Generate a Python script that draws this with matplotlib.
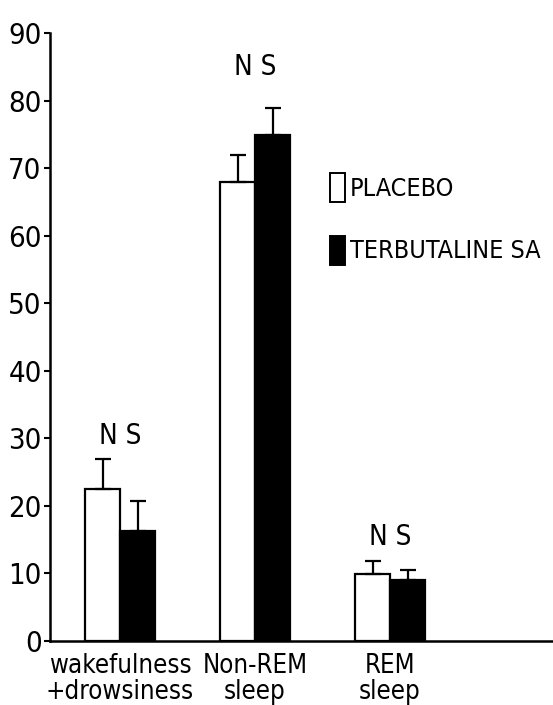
import numpy as np
import matplotlib.pyplot as plt
from matplotlib.patches import Patch

plt.rcParams['font.family'] = ['DejaVu Sans']
plt.rcParams['font.stretch'] = 'condensed'

# data (percentage of sleep time)
categories = ['wakefulness\n+drowsiness', 'Non-REM\nsleep', 'REM\nsleep']
placebo = [22.5, 68.0, 9.9]
placebo_err = [4.5, 4.0, 1.9]
terbutaline = [16.3, 75.0, 9.0]
terbutaline_err = [4.4, 4.0, 1.5]
sig_labels = ['N S', 'N S', 'N S']
sig_y = [30.4, 85.0, 15.4]

fig = plt.figure(figsize=(5.53, 7.05), dpi=100)
ax = fig.add_axes([0.0904, 0.0908, 0.9096, 0.862])

x = np.arange(len(categories))
w = 0.26

ax.bar(x - w/2, placebo, w, color='white', edgecolor='black', linewidth=1.6,
       label='PLACEBO', zorder=2)
ax.bar(x + w/2, terbutaline, w, color='black', edgecolor='black', linewidth=1.6,
       label='TERBUTALINE SA', zorder=2)

ax.errorbar(x - w/2, placebo, yerr=[np.zeros(3), placebo_err], fmt='none',
            ecolor='black', elinewidth=1.6, capsize=6, capthick=1.6, zorder=3)
ax.errorbar(x + w/2, terbutaline, yerr=[np.zeros(3), terbutaline_err], fmt='none',
            ecolor='black', elinewidth=1.6, capsize=6, capthick=1.6, zorder=3)

for xi, lab, yi in zip(x, sig_labels, sig_y):
    ax.text(xi, yi, lab, ha='center', va='center', fontsize=20)

ax.set_xlim(-0.519, 3.207)
ax.set_ylim(0, 90)
ax.set_yticks(np.arange(0, 91, 10))
ax.set_xticks(x)
ax.set_xticklabels(categories, fontsize=18.5, linespacing=1.0)
ax.tick_params(axis='x', length=0, pad=9)
ax.tick_params(axis='y', length=4, width=1.5, labelsize=21, pad=2)

ax.spines['top'].set_visible(False)
ax.spines['right'].set_visible(False)
ax.spines['left'].set_linewidth(1.8)
ax.spines['bottom'].set_linewidth(1.8)

handles = [Patch(facecolor='white', edgecolor='black', linewidth=1.4),
           Patch(facecolor='black', edgecolor='black', linewidth=1.4)]
ax.legend(handles, ['PLACEBO', 'TERBUTALINE SA'], loc='upper left',
          bbox_to_anchor=(0.557, 0.77), frameon=False, fontsize=18,
          handlelength=0.6, handleheight=1.4, handletextpad=0.2,
          labelspacing=1.35, borderaxespad=0, borderpad=0)

fig.savefig('out.png', dpi=100)
